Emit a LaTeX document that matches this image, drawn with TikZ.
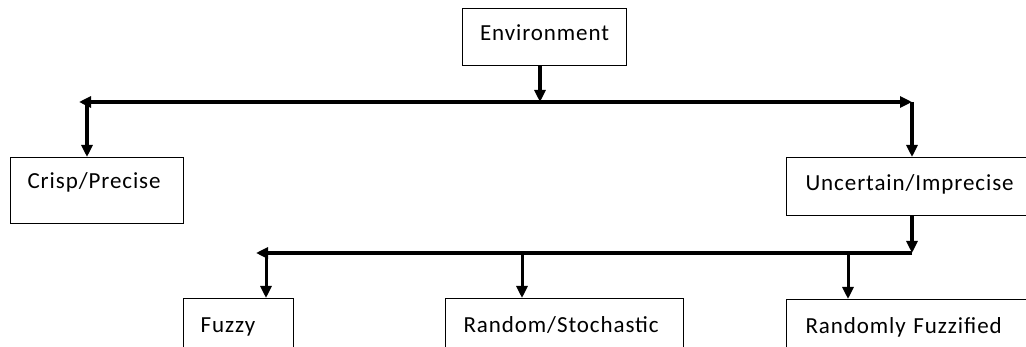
\documentclass[tikz,border=0pt]{standalone}
\usepackage{fontspec}
\setmainfont{Carlito}[LetterSpace=4]
\usetikzlibrary{arrows.meta}
\begin{document}
\begin{tikzpicture}[x=1pt,y=-1pt,
  box/.style={draw, line width=1.1pt, inner sep=0pt, font=\fontsize{23}{27}\selectfont, anchor=north west, text height=16pt},
  conn/.style={line width=3.5pt, -{Triangle[length=12pt,width=11pt]}},
  bar/.style={line width=3.5pt}]
\useasboundingbox (0,0) rectangle (1026,347);
% boxes
\node[box, minimum width=164pt, minimum height=57pt, text depth=9pt] (env) at (462,8) {Environment};
\node[box, minimum width=173pt, minimum height=66pt, text width=139pt, align=left, inner xsep=17pt, text depth=20pt] (crisp) at (10,157) {Crisp/Precise};
\node[box, minimum width=254pt, minimum height=58pt, text width=216pt, align=left, inner xsep=19pt, text depth=8pt] (unc) at (786,157) {Uncertain/Imprecise};
\node[box, minimum width=110pt, minimum height=54pt, text width=76pt, align=left, inner xsep=17pt, text depth=2pt] (fuzzy) at (183,298) {Fuzzy};
\node[box, minimum width=238pt, minimum height=54pt, text width=202pt, align=left, inner xsep=18pt, text depth=2pt] (rand) at (445,298) {Random/Stochastic};
\node[box, minimum width=254pt, minimum height=54pt, text width=216pt, align=left, inner xsep=19pt, text depth=2pt] (rfz) at (786,299) {Randomly Fuzzified};
% coordinates on the bars
\coordinate (t1) at (540,102);
\coordinate (l1) at (79,102);
\coordinate (lv1) at (87,102);
\coordinate (r1) at (912,102);
\coordinate (r2) at (912,253);
\coordinate (l2) at (256,253);
\coordinate (fv) at (266,253);
\coordinate (sv) at (522,253);
\coordinate (rv) at (848,253);
% connectors
\draw[conn] (env.south -| t1) -- (t1);
\draw[bar, {Triangle[length=12pt,width=11pt]}-{Triangle[length=12pt,width=11pt]}] (l1) -- (r1);
\draw[conn] (lv1) -- (crisp.north -| lv1);
\draw[conn] (r1) -- (unc.north -| r1);
\draw[conn] (unc.south -| r2) -- (r2);
\draw[bar, -{Triangle[length=12pt,width=11pt]}] (r2) -- (l2);
\draw[conn, line width=3pt] (fv) -- (fuzzy.north -| fv);
\draw[conn, line width=3pt] (sv) -- (rand.north -| sv);
\draw[conn, line width=3pt] (rv) -- (rfz.north -| rv);
\end{tikzpicture}
\end{document}
